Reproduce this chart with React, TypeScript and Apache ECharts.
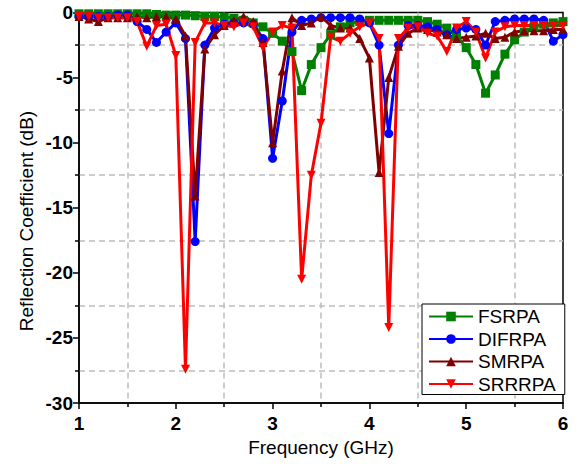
import React, { useEffect, useRef } from 'react';
import * as echarts from 'echarts';

const freq = [
  1.0, 1.1, 1.2, 1.3, 1.4, 1.5, 1.6, 1.7, 1.8, 1.9,
  2.0, 2.1, 2.2, 2.3, 2.4, 2.5, 2.6, 2.7, 2.8, 2.9,
  3.0, 3.1, 3.2, 3.3, 3.4, 3.5, 3.6, 3.7, 3.8, 3.9,
  4.0, 4.1, 4.2, 4.3, 4.4, 4.5, 4.6, 4.7, 4.8, 4.9,
  5.0, 5.1, 5.2, 5.3, 5.4, 5.5, 5.6, 5.7, 5.8, 5.9,
  6.0,
];

const fsrpa = [
  -0.1, -0.1, -0.1, -0.1, -0.1, -0.1, -0.1, -0.1, -0.15, -0.2,
  -0.2, -0.2, -0.25, -0.3, -0.3, -0.35, -0.45, -0.6, -0.8, -1.1,
  -1.6, -2.2, -3.0, -6.0, -4.0, -2.7, -1.7, -1.1, -0.8, -0.7,
  -0.6, -0.6, -0.6, -0.6, -0.6, -0.6, -0.7, -0.9, -1.2, -1.8,
  -2.7, -4.0, -6.2, -4.8, -3.2, -2.1, -1.5, -1.1, -0.9, -0.8,
  -0.7,
];

const difrpa = [
  -0.3, -0.3, -0.3, -0.3, -0.2, -0.2, -0.7, -1.3, -2.3, -1.5,
  -0.8, -2.0, -17.6, -2.5, -1.2, -0.9, -0.8, -0.8, -0.9, -2.0,
  -11.2, -6.8, -1.5, -0.6, -0.5, -0.4, -0.4, -0.4, -0.4, -0.5,
  -0.8, -2.5, -9.3, -2.5, -1.0, -1.0, -1.1, -1.3, -1.7, -1.3,
  -1.2, -1.3, -2.5, -0.7, -0.6, -0.5, -0.5, -0.5, -0.6, -2.2,
  -1.7,
];

const smrpa = [
  -0.3, -0.5, -0.7, -0.4, -0.4, -0.4, -0.3, -0.4, -0.3, -0.3,
  -0.5, -1.8, -14.1, -2.8, -1.7, -1.0, -0.6, -0.3, -0.7, -2.3,
  -10.0, -4.5, -0.4, -1.0, -0.8, -0.3, -1.0, -1.2, -1.2, -2.0,
  -3.5, -12.3, -5.0, -2.6, -1.6, -1.2, -1.3, -1.5, -1.7, -2.0,
  -1.9, -1.8, -1.6, -2.0, -1.9, -1.5, -1.4, -1.4, -1.4, -1.3,
  -1.3,
];

const srrrpa = [
  -0.3, -0.3, -0.4, -0.4, -0.4, -0.4, -0.7, -2.6, -1.0, -0.9,
  -3.3, -27.4, -2.3, -0.8, -0.8, -1.0, -1.1, -0.8, -1.1, -2.7,
  -1.5, -1.0, -1.2, -20.5, -12.5, -8.5, -1.9, -2.2, -1.6, -1.1,
  -0.8, -2.0, -24.2, -2.0, -1.2, -1.1, -1.6, -1.8, -3.0, -1.2,
  -0.7, -1.5, -3.5, -1.5, -1.1, -1.0, -1.0, -1.0, -1.0, -1.0,
  -1.0,
];

const seriesNames = ['FSRPA', 'DIFRPA', 'SMRPA', 'SRRRPA'];
const seriesColors = ['#008000', '#0000ff', '#800000', '#ff0000'];

const FONT = 'Arial, "Liberation Sans", Helvetica, sans-serif';

export default function App() {
  const ref = useRef<HTMLDivElement>(null);

  useEffect(() => {
    if (!ref.current) return;
    const chart = echarts.init(ref.current, undefined, { renderer: 'svg' });
    const pair = (arr: number[]) => freq.map((f, i) => [f, arr[i]]);
    const values = [fsrpa, difrpa, smrpa, srrrpa];
    const symbols = ['rect', 'circle', 'triangle', 'triangle'];
    const rotates = [0, 0, 0, 180];

    const axisCommon = {
      axisLine: { show: true, onZero: false, lineStyle: { color: '#000', width: 1.5 } },
      axisTick: { show: true, inside: false, length: 6, lineStyle: { color: '#000', width: 1.5 } },
      minorTick: { show: true, splitNumber: 2, length: 4, lineStyle: { color: '#000', width: 1.5 } },
      splitLine: { show: false },
      minorSplitLine: { show: true, lineStyle: { color: '#bdbdbd', type: [6, 4], width: 1.5 } },
    };

    chart.setOption({
      animation: false,
      backgroundColor: '#fff',
      grid: {
        left: 79,
        right: 13,
        top: 12.5,
        bottom: 61,
        show: true,
        borderColor: '#000',
        borderWidth: 1.5,
        backgroundColor: 'transparent',
      },
      xAxis: {
        type: 'value',
        min: 1,
        max: 6,
        interval: 1,
        ...axisCommon,
        axisLabel: { fontSize: 19, fontWeight: 'bold', color: '#000', margin: 11, fontFamily: FONT },
        name: 'Frequency (GHz)',
        nameLocation: 'middle',
        nameGap: 35,
        nameTextStyle: { fontSize: 19, color: '#000', fontFamily: FONT },
      },
      yAxis: {
        type: 'value',
        min: -30,
        max: 0,
        interval: 5,
        ...axisCommon,
        axisLabel: { fontSize: 19, fontWeight: 'bold', color: '#000', margin: 6, fontFamily: FONT },
      },
      legend: {
        orient: 'vertical',
        left: 422,
        top: 304,
        data: seriesNames,
        backgroundColor: '#fff',
        borderColor: '#000',
        borderWidth: 1,
        borderRadius: 0,
        padding: [3, 9, 1, 6],
        itemWidth: 44,
        itemHeight: 12,
        itemGap: 3.5,
        itemTextGap: 3,
        textStyle: { fontSize: 19, color: '#000', fontFamily: FONT },
      },
      graphic: [
        {
          type: 'text',
          x: 26,
          y: 221,
          rotation: Math.PI / 2,
          style: {
            text: 'Reflection Coefficient (dB)',
            fontSize: 19,
            fontFamily: FONT,
            fill: '#000',
            align: 'center',
            verticalAlign: 'middle',
          },
        },
      ],
      series: seriesNames.map((name, i) => ({
        name,
        type: 'line',
        data: pair(values[i]),
        symbol: symbols[i],
        symbolRotate: rotates[i],
        symbolSize: 9,
        showSymbol: true,
        color: seriesColors[i],
        lineStyle: { color: seriesColors[i], width: 3 },
        itemStyle: { color: seriesColors[i] },
      })),
    });

    return () => chart.dispose();
  }, []);

  return (
    <div
      ref={ref}
      style={{ position: 'fixed', left: 0, top: 0, width: 576, height: 464 }}
    />
  );
}
